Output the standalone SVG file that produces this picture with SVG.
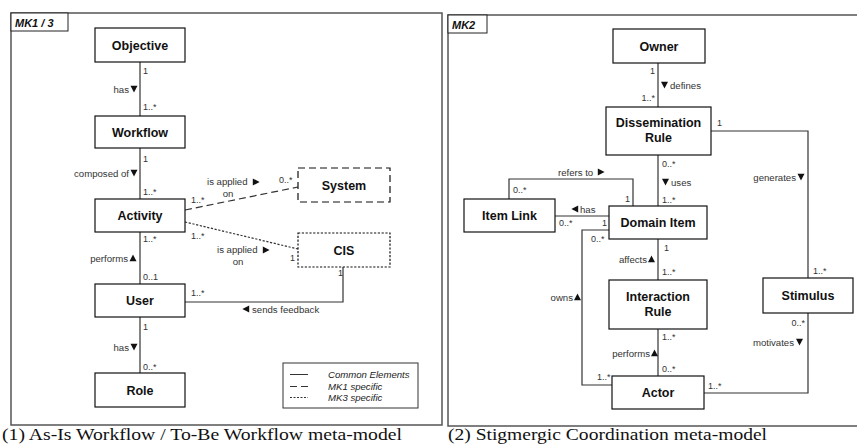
<svg xmlns="http://www.w3.org/2000/svg" width="857" height="448" viewBox="0 0 857 448">
  <style>
    .frame { fill: none; stroke: #555; stroke-width: 1.5; }
    .tab { fill: #fff; stroke: #222; stroke-width: 1; }
    .tabtxt { font-family: "Liberation Sans", Arial, sans-serif; font-size: 11px; font-weight: bold; font-style: italic; fill: #111; }
    .box { fill: #fff; stroke: #111; stroke-width: 1.2; }
    .dash { stroke-dasharray: 7 4; }
    .dot { stroke-dasharray: 2.2 1.6; }
    .name { font-family: "Liberation Sans", Arial, sans-serif; font-size: 12.5px; font-weight: bold; fill: #111; text-anchor: middle; }
    .lbl { font-family: "Liberation Sans", Arial, sans-serif; font-size: 9.6px; fill: #333; }
    .mul { font-family: "Liberation Sans", Arial, sans-serif; font-size: 9px; fill: #333; }
    .end { text-anchor: end; }
    .mid { text-anchor: middle; }
    .leg { font-family: "Liberation Sans", Arial, sans-serif; font-size: 9.6px; font-style: italic; fill: #222; }
    .cap { font-family: "Liberation Serif", "Times New Roman", serif; font-size: 16px; fill: #111; }
    .conn path { fill: none; stroke: #333; stroke-width: 1.2; }
    .tri { fill: #111; }
  </style>
  <defs>
    <path id="tD" d="M-3.5,-3.2 L3.5,-3.2 L0,3.6 Z"/>
    <path id="tU" d="M-3.5,3.2 L3.5,3.2 L0,-3.6 Z"/>
    <path id="tR" d="M-3.2,-3.5 L-3.2,3.5 L3.6,0 Z"/>
    <path id="tL" d="M3.2,-3.5 L3.2,3.5 L-3.6,0 Z"/>
  </defs>

  <rect width="857" height="448" fill="#fff"/>

  <!-- Panel 1 frame -->
  <rect class="frame" x="11" y="13" width="431" height="412"/>
  <rect class="tab" x="11" y="13" width="57" height="18"/>
  <text class="tabtxt" x="15" y="26.5">MK1 / 3</text>

  <!-- Panel 2 frame -->
  <rect class="frame" x="448" y="15" width="430" height="411"/>
  <rect class="tab" x="448" y="15" width="39" height="18"/>
  <text class="tabtxt" x="452" y="28.5">MK2</text>

  <!-- Connectors -->
  <g id="connectors" class="conn">
    <path d="M140,62 V116"/>
    <path d="M140,148 V199"/>
    <path d="M140,232 V284"/>
    <path d="M140,317 V373"/>
    <path class="dash" d="M185,210 L298,187"/>
    <path class="dot" d="M185,222 L298,249"/>
    <path d="M343,267 V302 H185"/>

    <path d="M658,63 V107"/>
    <path d="M658,155 V206"/>
    <path d="M658,239 V280"/>
    <path d="M658,329 V376"/>
    <path d="M711,131 H808 V278"/>
    <path d="M509,199 V179 H633 V206"/>
    <path d="M555,216 H609"/>
    <path d="M609,230 H582 V385 H612"/>
    <path d="M704,393 H808 V313"/>
  </g>

  <!-- Panel 1 nodes -->
  <g id="objective"><rect class="box" x="95" y="28" width="90" height="34"/><text class="name" x="140" y="49.5">Objective</text></g>
  <g id="workflow"><rect class="box" x="95" y="116" width="90" height="32"/><text class="name" x="140" y="136.5">Workflow</text></g>
  <g id="activity"><rect class="box" x="95" y="199" width="90" height="33"/><text class="name" x="140" y="220">Activity</text></g>
  <g id="user"><rect class="box" x="95" y="284" width="90" height="33"/><text class="name" x="140" y="305">User</text></g>
  <g id="role"><rect class="box" x="95" y="373" width="90" height="34"/><text class="name" x="140" y="394.5">Role</text></g>
  <g id="system"><rect class="box dash" x="298" y="168" width="92" height="34"/><text class="name" x="344" y="189.5">System</text></g>
  <g id="cis"><rect class="box dot" x="298" y="233" width="92" height="34"/><text class="name" x="344" y="254.5">CIS</text></g>

  <!-- Panel 1 labels -->
  <g id="labels-1">
    <text class="mul" x="143" y="74">1</text>
    <text class="lbl end" x="129" y="92.5">has</text><use href="#tD" class="tri" x="134" y="89"/>
    <text class="mul" x="143" y="110">1..*</text>

    <text class="mul" x="143" y="162">1</text>
    <text class="lbl end" x="129" y="176.5">composed of</text><use href="#tD" class="tri" x="134" y="173"/>
    <text class="mul" x="143" y="195">1..*</text>

    <text class="lbl" x="207" y="185">is applied</text><use href="#tR" class="tri" x="256" y="182"/>
    <text class="lbl mid" x="228" y="196.5">on</text>
    <text class="mul" x="279" y="183">0..*</text>
    <text class="mul" x="191" y="203">1..*</text>

    <text class="mul" x="191" y="239">1..*</text>
    <text class="lbl" x="217" y="253">is applied</text><use href="#tR" class="tri" x="266" y="250"/>
    <text class="lbl mid" x="238" y="265">on</text>
    <text class="mul" x="290" y="261">1</text>
    <text class="mul" x="338" y="276">1</text>

    <text class="mul" x="143" y="242">1..*</text>
    <text class="lbl end" x="128" y="261.5">performs</text><use href="#tU" class="tri" x="133" y="258"/>
    <text class="mul" x="143" y="280">0..1</text>
    <text class="mul" x="191" y="296">1..*</text>

    <use href="#tL" class="tri" x="246" y="309"/><text class="lbl" x="252" y="312.5">sends feedback</text>

    <text class="mul" x="143" y="330">1</text>
    <text class="lbl end" x="129" y="350.5">has</text><use href="#tD" class="tri" x="134" y="347"/>
    <text class="mul" x="143" y="370">0..*</text>
  </g>

  <!-- Legend -->
  <g id="legend">
    <rect x="283" y="363" width="135" height="45" fill="#fff" stroke="#333" stroke-width="1"/>
    <path d="M290,374.5 H308" stroke="#333" stroke-width="1"/>
    <path d="M290,386.5 H308" stroke="#333" stroke-width="1" stroke-dasharray="7 4"/>
    <path d="M290,397.5 H308" stroke="#333" stroke-width="1" stroke-dasharray="2 1.5"/>
    <text class="leg" x="328" y="378">Common Elements</text>
    <text class="leg" x="328" y="390">MK1 specific</text>
    <text class="leg" x="328" y="401">MK3 specific</text>
  </g>

  <!-- Panel 2 nodes -->
  <g id="owner"><rect class="box" x="613" y="29" width="92" height="34"/><text class="name" x="659" y="50.5">Owner</text></g>
  <g id="dissemination-rule"><rect class="box" x="606" y="107" width="105" height="48"/><text class="name" x="658.5" y="127">Dissemination</text><text class="name" x="658.5" y="142">Rule</text></g>
  <g id="item-link"><rect class="box" x="464" y="199" width="91" height="33"/><text class="name" x="509.5" y="220">Item Link</text></g>
  <g id="domain-item"><rect class="box" x="609" y="206" width="98" height="33"/><text class="name" x="658" y="227">Domain Item</text></g>
  <g id="interaction-rule"><rect class="box" x="609" y="280" width="98" height="49"/><text class="name" x="658" y="300.5">Interaction</text><text class="name" x="658" y="315.5">Rule</text></g>
  <g id="actor"><rect class="box" x="612" y="376" width="92" height="33"/><text class="name" x="658" y="397">Actor</text></g>
  <g id="stimulus"><rect class="box" x="763" y="278" width="90" height="35"/><text class="name" x="808" y="300">Stimulus</text></g>

  <!-- Panel 2 labels -->
  <g id="labels-2">
    <text class="mul end" x="655" y="74">1</text>
    <use href="#tD" class="tri" x="664.5" y="85"/><text class="lbl" x="670" y="88.5">defines</text>
    <text class="mul end" x="655" y="101">1..*</text>
    <text class="mul" x="717" y="126">1</text>

    <text class="mul" x="662" y="167">0..*</text>
    <use href="#tD" class="tri" x="665.5" y="182"/><text class="lbl" x="671" y="185.5">uses</text>
    <text class="mul" x="662" y="203">1..*</text>

    <text class="lbl end" x="796" y="180.5">generates</text><use href="#tD" class="tri" x="801" y="177"/>
    <text class="mul" x="813" y="274">1..*</text>

    <text class="lbl" x="558" y="175.5">refers to</text><use href="#tR" class="tri" x="601" y="172"/>
    <text class="mul" x="513" y="193">0..*</text>
    <text class="mul" x="625" y="202">1</text>

    <use href="#tL" class="tri" x="575" y="209"/><text class="lbl" x="580" y="212.5">has</text>
    <text class="mul" x="559" y="226">0..*</text>
    <text class="mul" x="602" y="226">1</text>
    <text class="mul" x="591" y="242">0..*</text>

    <text class="mul" x="664" y="251">1</text>
    <text class="lbl end" x="647" y="262.5">affects</text><use href="#tU" class="tri" x="651.5" y="259"/>
    <text class="mul" x="662" y="275">1..*</text>

    <text class="lbl end" x="573" y="300.5">owns</text><use href="#tU" class="tri" x="577.5" y="297"/>

    <text class="mul" x="662" y="340">1..*</text>
    <text class="lbl end" x="650" y="356.5">performs</text><use href="#tU" class="tri" x="654.5" y="353"/>
    <text class="mul" x="662" y="372">0..*</text>
    <text class="mul" x="597" y="380">1..*</text>
    <text class="mul" x="708" y="389">1..*</text>

    <text class="mul end" x="805" y="326">0..*</text>
    <text class="lbl end" x="794" y="345.5">motivates</text><use href="#tD" class="tri" x="799.5" y="342"/>
  </g>

  <!-- Captions -->
  <text class="cap" x="2" y="440" textLength="400" lengthAdjust="spacingAndGlyphs">(1) As-Is Workflow / To-Be Workflow meta-model</text>
  <text class="cap" x="448" y="440" textLength="319" lengthAdjust="spacingAndGlyphs">(2) Stigmergic Coordination meta-model</text>
</svg>
